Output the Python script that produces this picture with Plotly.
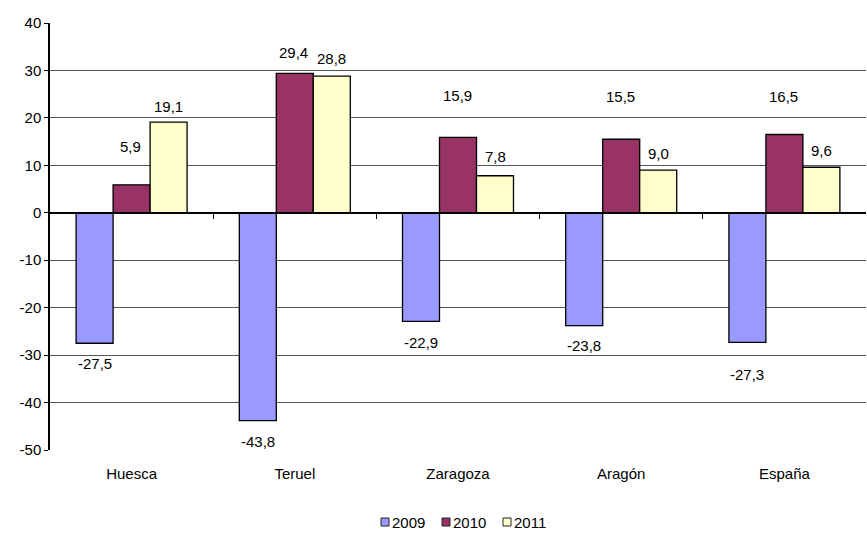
import plotly.graph_objects as go

categories = ["Huesca", "Teruel", "Zaragoza", "Aragón", "España"]
years = ["2009", "2010", "2011"]
v2009 = [-27.5, -43.8, -22.9, -23.8, -27.3]
v2010 = [5.9, 29.4, 15.9, 15.5, 16.5]
v2011 = [19.1, 28.8, 7.8, 9.0, 9.6]
ytick_vals = [-50, -40, -30, -20, -10, 0, 10, 20, 30, 40]

colors = ["#9999FF", "#993366", "#FFFFCC"]
# label vertical offsets in px (style only)
label_yshift = [
    [-20, -21, -21, -20, -32],
    [38, 21, 42, 43, 38],
    [16, 18, 19, 17, 17],
]
label_xshift = [-37, -1, 37]

series = [v2009, v2010, v2011]
font = "Liberation Sans, Arial, sans-serif"
FS = 15

W, H = 867, 534
ML, MR, MT, MB = 50, 1, 23, 84
PW, PH = W - ML - MR, H - MT - MB

fig = go.Figure()
for name, vals, col in zip(years, series, colors):
    fig.add_trace(go.Bar(
        x=categories, y=vals, name=name, showlegend=False,
        marker=dict(color=col, line=dict(color="black", width=1.3)),
        hoverinfo="skip",
    ))

# dummy trace for zero-line axis with boundary ticks
fig.add_trace(go.Scatter(x=[0], y=[0], xaxis="x2", yaxis="y", mode="markers",
                         marker=dict(opacity=0), showlegend=False, hoverinfo="skip"))

annotations = []
for si, vals in enumerate(series):
    for ci, v in enumerate(vals):
        annotations.append(dict(
            x=categories[ci], y=v, xref="x", yref="y",
            text=f"{v:.1f}".replace(".", ","), showarrow=False,
            xshift=label_xshift[si], yshift=label_yshift[si][ci],
            font=dict(family=font, size=FS, color="black"),
        ))

# manual legend (small squares + text) below the plot
shapes = []
leg_y = (H - MB - 522) / PH
leg_x_px = [385, 446, 507]
for name, col, px in zip(years, colors, leg_x_px):
    xa = (px - ML) / PW
    shapes.append(dict(type="rect", xref="paper", yref="paper",
                       xsizemode="pixel", ysizemode="pixel",
                       xanchor=xa, yanchor=leg_y, x0=-4, x1=4, y0=-4, y1=4,
                       fillcolor=col, line=dict(color="#222", width=1)))
    annotations.append(dict(x=(px + 5 - ML) / PW, y=leg_y, xref="paper", yref="paper",
                            xanchor="left", yanchor="middle", showarrow=False,
                            text=name, font=dict(family=font, size=FS, color="black")))

fig.update_layout(
    width=W, height=H,
    margin=dict(l=ML, r=MR, t=MT, b=MB),
    paper_bgcolor="white", plot_bgcolor="white",
    barmode="group", bargap=0.32, bargroupgap=0,
    font=dict(family=font, size=FS, color="black"),
    showlegend=False,
    annotations=annotations,
    shapes=shapes,
    xaxis=dict(type="category", showgrid=False, showline=False, zeroline=False,
               ticks="outside", ticklen=10, tickcolor="rgba(0,0,0,0)",
               tickfont=dict(family=font, size=FS, color="black")),
    xaxis2=dict(overlaying="x", anchor="free", position=50 / 90, range=[-0.5, 4.5],
                tickmode="array", tickvals=[0.5, 1.5, 2.5, 3.5],
                ticks="outside", ticklen=5, tickcolor="black", tickwidth=1,
                showticklabels=False, showgrid=False, zeroline=False,
                showline=True, linecolor="black", linewidth=2),
    yaxis=dict(range=[-50, 40], tickmode="array", tickvals=ytick_vals,
               ticktext=[str(t) for t in ytick_vals],
               showgrid=True, gridcolor="#555555", gridwidth=1.2,
               zeroline=False, showline=True, linecolor="black", linewidth=1.5,
               ticks="outside", ticklen=4, tickcolor="black",
               tickfont=dict(family=font, size=FS, color="black")),
)

fig.write_html("out.html", config={"displayModeBar": False},
               post_script="document.body.style.margin='0';document.body.style.overflow='hidden';")
